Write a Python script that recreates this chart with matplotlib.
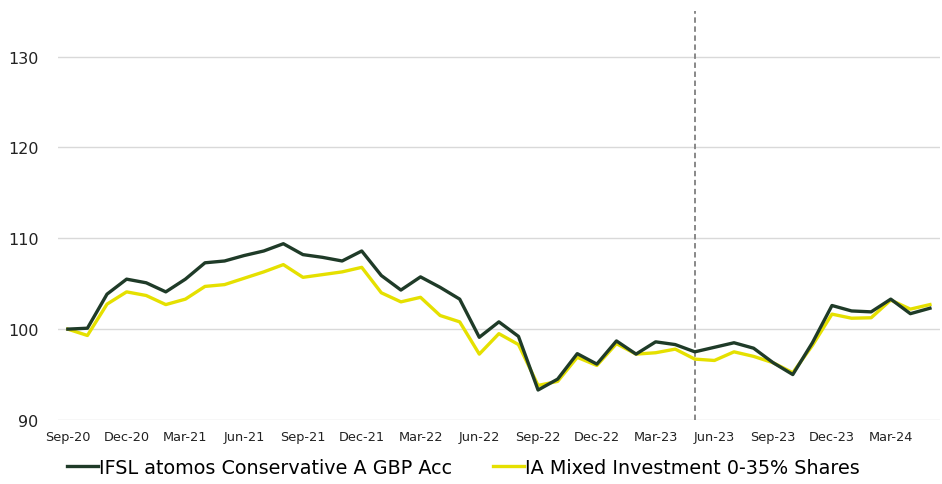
import numpy as np
import matplotlib
matplotlib.use("Agg")
import matplotlib.pyplot as plt

plt.rcParams['font.family'] = ['DejaVu Sans']

# monthly, Sep-20 .. May-24
months = ['Sep-20', 'Oct-20', 'Nov-20', 'Dec-20', 'Jan-21', 'Feb-21', 'Mar-21', 'Apr-21',
          'May-21', 'Jun-21', 'Jul-21', 'Aug-21', 'Sep-21', 'Oct-21', 'Nov-21', 'Dec-21',
          'Jan-22', 'Feb-22', 'Mar-22', 'Apr-22', 'May-22', 'Jun-22', 'Jul-22', 'Aug-22',
          'Sep-22', 'Oct-22', 'Nov-22', 'Dec-22', 'Jan-23', 'Feb-23', 'Mar-23', 'Apr-23',
          'May-23', 'Jun-23', 'Jul-23', 'Aug-23', 'Sep-23', 'Oct-23', 'Nov-23', 'Dec-23',
          'Jan-24', 'Feb-24', 'Mar-24', 'Apr-24', 'May-24']

fund = [100.0, 100.1, 103.85, 105.5, 105.1, 104.1, 105.5, 107.3, 107.5, 108.1, 108.6,
        109.4, 108.2, 107.9, 107.5, 108.6, 105.9, 104.3, 105.75, 104.6, 103.3, 99.1,
        100.8, 99.2, 93.3, 94.5, 97.3, 96.15, 98.7, 97.25, 98.6, 98.3, 97.5, 98.0,
        98.5, 97.9, 96.3, 95.0, 98.5, 102.6, 102.0, 101.9, 103.3, 101.7, 102.3]

sector = [100.0, 99.3, 102.75, 104.1, 103.7, 102.7, 103.3, 104.7, 104.9, 105.6, 106.3,
          107.1, 105.7, 106.0, 106.3, 106.8, 104.0, 103.0, 103.5, 101.5, 100.8, 97.25,
          99.5, 98.3, 93.8, 94.25, 96.9, 96.0, 98.4, 97.25, 97.4, 97.8, 96.7, 96.55,
          97.5, 97.0, 96.3, 95.2, 98.2, 101.65, 101.2, 101.25, 103.2, 102.2, 102.7]

fund_name = 'IFSL atomos Conservative A GBP Acc'
sector_name = 'IA Mixed Investment 0-35% Shares'
marker_month = 'May-23'

x = np.arange(len(months))

fig = plt.figure(figsize=(9.42, 4.85), dpi=100)
ax = fig.add_axes([0.0616, 0.132, 0.936, 0.843])

ax.plot(x, fund, color='#1f3b28', lw=2.4, label=fund_name, zorder=3)
ax.plot(x, sector, color='#e5e000', lw=2.4, label=sector_name, zorder=2)

ax.axvline(months.index(marker_month), color='#7f7f7f', lw=1.3, ls=(0, (3, 2)), zorder=1)

ax.set_ylim(90, 135)
ax.set_yticks([90, 100, 110, 120, 130])
ax.set_xlim(-0.5, len(months) - 0.5)
ax.set_xticks(x[::3])
ax.set_xticklabels(months[::3])
ax.grid(axis='y', color='#d9d9d9', lw=1)
ax.set_axisbelow(True)
for s in ax.spines.values():
    s.set_visible(False)
ax.tick_params(axis='y', length=0, pad=14, labelsize=11.5, colors='#222222')
ax.tick_params(axis='x', length=0, pad=7, labelsize=9.3, colors='#222222')

fig.legend(loc='center left', bbox_to_anchor=(0.071, 0.035), ncol=2, frameon=False,
           fontsize=13.8, handlelength=1.6, handletextpad=0.1, columnspacing=2.1,
           borderaxespad=0, borderpad=0)

fig.savefig('out.png', dpi=100)
